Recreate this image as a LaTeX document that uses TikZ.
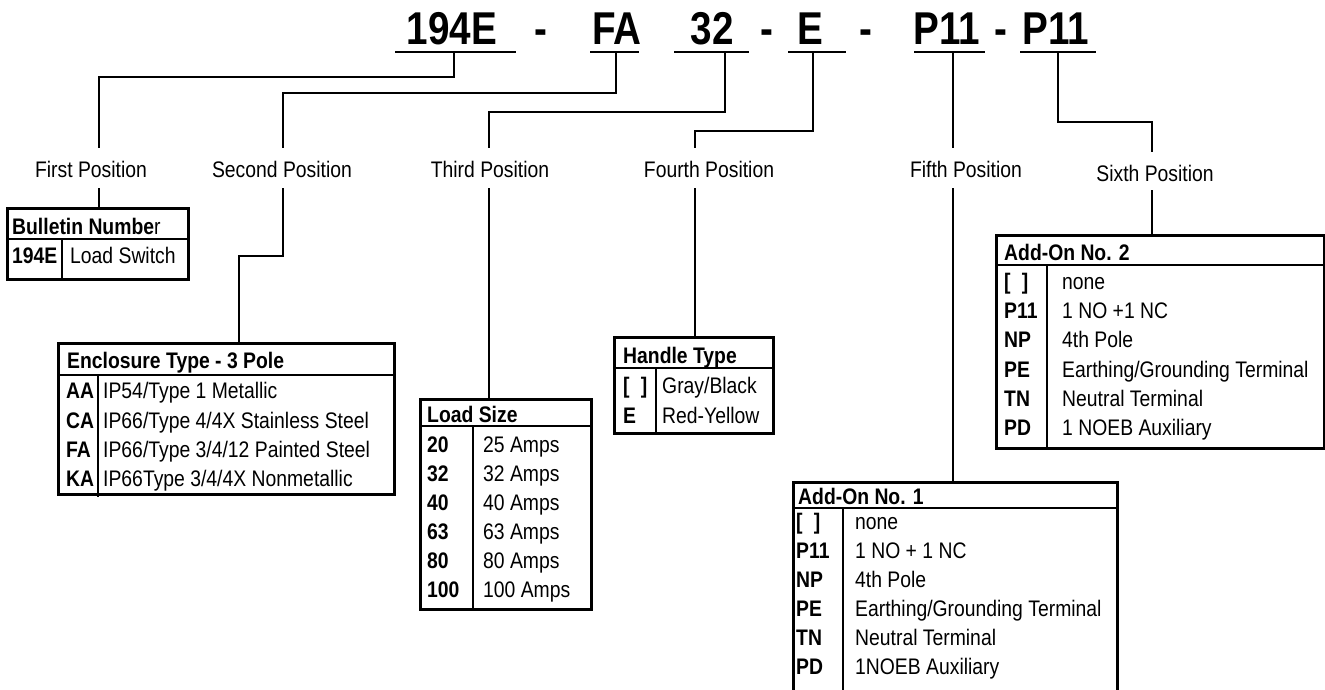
\documentclass[tikz,border=0pt]{standalone}
\usepackage{fontspec}
\setmainfont{Liberation Sans}[FakeStretch=0.86]
\newfontfamily\titlefont{Liberation Sans}[FakeStretch=0.84]
\begin{document}
\begin{tikzpicture}[x=1pt,y=-1pt,
  wire/.style={line width=2.9pt},
  tbl/.style={draw,line width=2.9pt,inner sep=0,anchor=north west},
  rule/.style={line width=2.9pt},
  tt/.style={inner sep=0,anchor=base,font=\titlefont\fontsize{46}{50}\selectfont\bfseries},
  poslbl/.style={inner sep=0,anchor=base,font=\fontsize{22.5}{24}\selectfont},
  txt/.style={inner sep=0,anchor=base west,font=\fontsize{22.5}{24}\selectfont},
  cd/.style={inner sep=0,anchor=base west,font=\fontsize{22.5}{24}\selectfont\bfseries}]
\useasboundingbox (0,0) rectangle (1325,690);

% ---------- title ----------
\node[tt] (a1) at (452,45) {194E};
\node[tt] (d1) at (541,45) {-};
\node[tt] (a2) at (617,45) {FA};
\node[tt] (a3) at (712,45) {32};
\node[tt] (d2) at (767,45) {-};
\node[tt] (a4) at (810,45) {E};
\node[tt] (d3) at (866,45) {-};
\node[tt] (a5) at (947,45) {P11};
\node[tt] (d4) at (1001,45) {-};
\node[tt] (a6) at (1056,45) {P11};

\draw[rule] (395,52) -- (516,52);
\draw[rule] (590,52) -- (639,52);
\draw[rule] (674,52) -- (749,52);
\draw[rule] (788,52) -- (846,52);
\draw[rule] (914,52) -- (985,52);
\draw[rule] (1020,52) -- (1096,52);

\coordinate (u1) at (454,52);
\coordinate (u2) at (616,52);
\coordinate (u3) at (725,52);
\coordinate (u4) at (813,52);
\coordinate (u5) at (953,52);
\coordinate (u6) at (1058,52);

% ---------- position labels ----------
\node[poslbl] (p1) at (91,178) {First Position};
\node[poslbl] (p2) at (282,178) {Second Position};
\node[poslbl] (p3) at (490,178) {Third Position};
\node[poslbl] (p4) at (709,178) {Fourth Position};
\node[poslbl] (p5) at (966,178) {Fifth Position};
\node[poslbl] (p6) at (1155,181) {Sixth Position};

\coordinate (r1) at (99,148);
\coordinate (r2) at (283,148);
\coordinate (r3) at (489,148);
\coordinate (r4) at (695,148);
\coordinate (r5) at (953,148);
\coordinate (r6) at (1152,152);

\draw[wire] (u1) -- ++(0,25) -| (r1);
\draw[wire] (u2) -- ++(0,41) -| (r2);
\draw[wire] (u3) -- ++(0,60) -| (r3);
\draw[wire] (u4) -- ++(0,79) -| (r4);
\draw[wire] (u5) -- (r5);
\draw[wire] (u6) -- ++(0,70) -| (r6);

% ---------- tables ----------
\node[tbl,minimum width=181pt,minimum height=71pt] (T1) at (6,207) {};
\node[tbl,minimum width=336pt,minimum height=151pt] (T2) at (57,342) {};
\node[tbl,minimum width=171pt,minimum height=210pt] (T3) at (419,398) {};
\node[tbl,minimum width=159pt,minimum height=96pt] (T4) at (613,336) {};
\node[tbl,minimum width=324pt,minimum height=215pt] (T5) at (792,481) {};
\node[tbl,minimum width=328pt,minimum height=213pt] (T6) at (995,234) {};

% header / column rules
\draw[rule] (6,239) -- (187,239);   \draw[rule] (62,239) -- (62,281);
\draw[rule] (57,375) -- (393,375);  \draw[rule] (98,375) -- (98,497);
\draw[rule] (419,426) -- (590,426); \draw[rule] (473,426) -- (473,608);
\draw[rule] (613,368) -- (772,368); \draw[rule] (656,368) -- (656,435);
\draw[rule] (792,508) -- (1116,508);\draw[rule] (843,508) -- (843,696);
\draw[rule] (995,265) -- (1323,265);\draw[rule] (1047,265) -- (1047,447);

% lower connectors
\coordinate (q1) at (99,188);
\coordinate (q2) at (283,188);
\coordinate (k2) at (239,256);
\coordinate (q3) at (489,188);
\coordinate (q4) at (695,188);
\coordinate (q5) at (953,188);
\coordinate (q6) at (1152,190);
\draw[wire] (q1) -- (q1 |- T1.north);
\draw[wire] (q2) |- (k2) -- (k2 |- T2.north);
\draw[wire] (q3) -- (q3 |- T3.north);
\draw[wire] (q4) -- (q4 |- T4.north);
\draw[wire] (q5) -- (q5 |- T5.north);
\draw[wire] (q6) -- (q6 |- T6.north);

% ---------- table texts ----------
% T1
\node[cd] (h1) at (12,234) {Bulletin Numbe{\mdseries r}};
\node[cd] (c11) at (12,263) {194E};
\node[txt] (e11) at (70,263) {Load Switch};
% T2
\node[cd] (h2) at (67,368) {Enclosure Type - 3 Pole};
\node[cd] (c21) at (66,398) {AA}; \node[txt] (e21) at (103,398) {IP54/Type 1 Metallic};
\node[cd] (c22) at (66,428) {CA}; \node[txt] (e22) at (103,428) {IP66/Type 4/4X Stainless Steel};
\node[cd] (c23) at (66,457) {FA}; \node[txt] (e23) at (103,457) {IP66/Type 3/4/12 Painted Steel};
\node[cd] (c24) at (66,486) {KA}; \node[txt] (e24) at (103,486) {IP66Type 3/4/4X Nonmetallic};
% T3
\node[cd] (h3) at (427,422) {Load Size};
\node[cd] (c31) at (427,452) {20};  \node[txt] (e31) at (483,452) {25 Amps};
\node[cd] (c32) at (427,481) {32};  \node[txt] (e32) at (483,481) {32 Amps};
\node[cd] (c33) at (427,510) {40};  \node[txt] (e33) at (483,510) {40 Amps};
\node[cd] (c34) at (427,539) {63};  \node[txt] (e34) at (483,539) {63 Amps};
\node[cd] (c35) at (427,568) {80};  \node[txt] (e35) at (483,568) {80 Amps};
\node[cd] (c36) at (427,597) {100}; \node[txt] (e36) at (483,597) {100 Amps};
% T4
\node[cd] (h4) at (623,363) {Handle Type};
\node[cd] (c41) at (623,393) {[\enspace]}; \node[txt] (e41) at (662,393) {Gray/Black};
\node[cd] (c42) at (623,423) {E};   \node[txt] (e42) at (662,423) {Red-Yellow};
% T5
\node[cd] (h5) at (798,504) {Add-On No. 1};
\node[cd] (c51) at (796,529) {[\enspace]}; \node[txt] (e51) at (855,529) {none};
\node[cd] (c52) at (796,558) {P11}; \node[txt] (e52) at (855,558) {1 NO + 1 NC};
\node[cd] (c53) at (796,587) {NP};  \node[txt] (e53) at (855,587) {4th Pole};
\node[cd] (c54) at (796,616) {PE};  \node[txt] (e54) at (855,616) {Earthing/Grounding Terminal};
\node[cd] (c55) at (796,645) {TN};  \node[txt] (e55) at (855,645) {Neutral Terminal};
\node[cd] (c56) at (796,674) {PD};  \node[txt] (e56) at (855,674) {1NOEB Auxiliary};
% T6
\node[cd] (h6) at (1004,260) {Add-On No. 2};
\node[cd] (c61) at (1004,289) {[\enspace]}; \node[txt] (e61) at (1062,289) {none};
\node[cd] (c62) at (1004,318) {P11}; \node[txt] (e62) at (1062,318) {1 NO +1 NC};
\node[cd] (c63) at (1004,347) {NP};  \node[txt] (e63) at (1062,347) {4th Pole};
\node[cd] (c64) at (1004,377) {PE};  \node[txt] (e64) at (1062,377) {Earthing/Grounding Terminal};
\node[cd] (c65) at (1004,406) {TN};  \node[txt] (e65) at (1062,406) {Neutral Terminal};
\node[cd] (c66) at (1004,435) {PD};  \node[txt] (e66) at (1062,435) {1 NOEB Auxiliary};
\end{tikzpicture}
\end{document}
